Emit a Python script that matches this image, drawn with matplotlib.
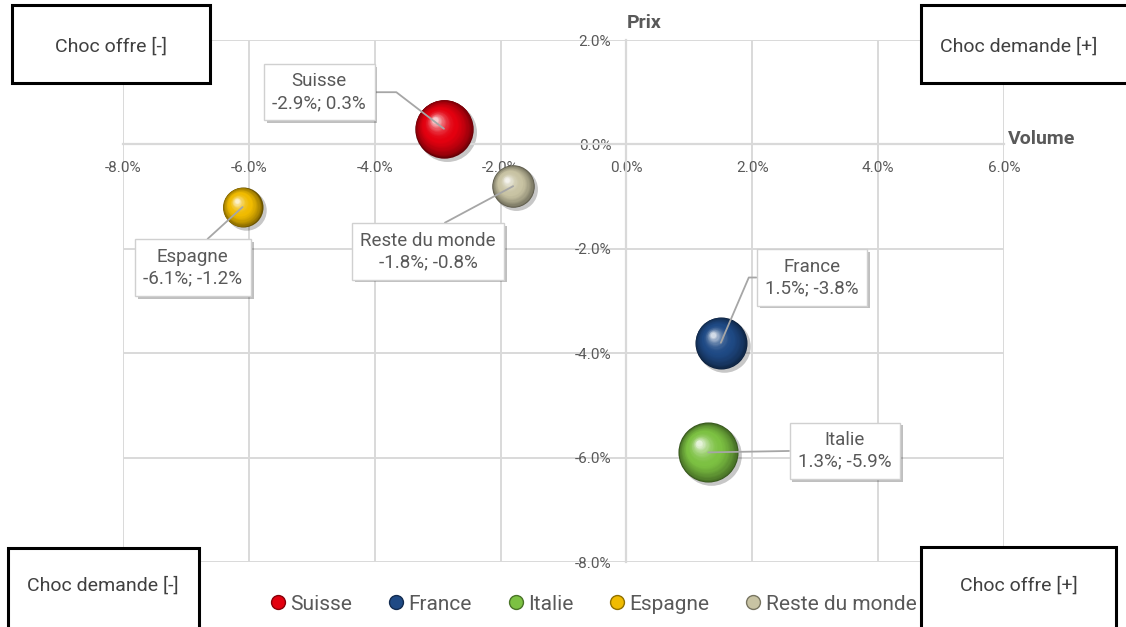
import numpy as np
import matplotlib
matplotlib.use('Agg')
import matplotlib.pyplot as plt
import matplotlib.colors as mcolors
import matplotlib.patheffects as pe
from matplotlib.transforms import offset_copy
from matplotlib.patches import Rectangle
from matplotlib.lines import Line2D

# ---------------- data ----------------
pays = ['Suisse', 'France', 'Italie', 'Espagne', 'Reste du monde']
volume = [-2.9, 1.5, 1.3, -6.1, -1.8]      # x, %
prix = [0.3, -3.8, -5.9, -1.2, -0.8]        # y, %
poids = [3.4, 2.7, 3.6, 1.6, 1.8]           # bubble size (relative area)
couleurs = ['#e3000f', '#1f4a85', '#7cc142', '#f0bb00', '#c8c3a3']
x_ticks = [-8, -6, -4, -2, 0, 2, 4, 6]
y_ticks = [-8, -6, -4, -2, 0, 2]
quadrants = ['Choc offre [-]', 'Choc demande [+]', 'Choc demande [-]', 'Choc offre [+]']

plt.rcParams['font.family'] = ['Roboto', 'DejaVu Sans']
plt.rcParams['axes.unicode_minus'] = False
TXT = '#595959'
GRID = '#d9d9d9'
W, H = 1126, 627

fig = plt.figure(figsize=(W / 100, H / 100), dpi=100)
ax = fig.add_axes([123 / W, 1 - 562 / H, 881 / W, 522 / H])
ax.set_xlim(x_ticks[0], x_ticks[-1])
ax.set_ylim(y_ticks[0], y_ticks[-1])
ax.set_xticks(x_ticks)
ax.set_yticks(y_ticks)
ax.set_xticklabels([f'{v:.1f}%' for v in x_ticks])
ax.set_yticklabels([f'{v:.1f}%' for v in y_ticks])
ax.grid(True, color=GRID, lw=1.4, zorder=0)
ax.set_axisbelow(True)
for s in ['top', 'right']:
    ax.spines[s].set_visible(False)
ax.spines['left'].set_position(('data', 0))
ax.spines['bottom'].set_position(('data', 0))
for s in ['left', 'bottom']:
    ax.spines[s].set_color(GRID)
    ax.spines[s].set_linewidth(1.6)
ax.tick_params(axis='x', length=0, labelsize=11, labelcolor=TXT, pad=12)
ax.tick_params(axis='y', length=0, labelsize=11, labelcolor=TXT, pad=11)
ax.set_facecolor('none')

ax.annotate('Prix', xy=(0, y_ticks[-1]), xytext=(0, 6), textcoords='offset points',
            ha='left', va='bottom', fontsize=14, fontweight='bold', color=TXT)
ax.annotate('Volume', xy=(x_ticks[-1], 0), xytext=(3, 4), textcoords='offset points',
            ha='left', va='center', fontsize=14, fontweight='bold', color=TXT)

SCALE = 520.0  # pt^2 per size unit


def sphere(x, y, s, base, z):
    R = np.sqrt(s) / 2.0
    ax.scatter([x], [y], s=s * 1.02, color='k', alpha=0.22, lw=0, zorder=z - 0.5,
               transform=offset_copy(ax.transData, fig=fig, x=2.2, y=-2.2, units='points'))
    b = np.array(mcolors.to_rgb(base))
    dark = b * 0.45
    light = b + (1 - b) * 0.8
    n = 34
    for i, t in enumerate(np.linspace(0, 1, n)):
        r = R * (1 - 0.9 * t)
        if t < 0.45:
            c = dark + (b - dark) * (t / 0.45) ** 0.6
        else:
            c = b + (light - b) * ((t - 0.45) / 0.55) ** 2.2
        off = 0.3 * R * t
        ax.scatter([x], [y], s=(2 * r) ** 2, color=np.clip(c, 0, 1), lw=0, zorder=z + 0.01 * i,
                   transform=offset_copy(ax.transData, fig=fig, x=-off, y=off, units='points'))


for k in range(len(pays)):
    sphere(volume[k], prix[k], poids[k] * SCALE, couleurs[k], 3 + k)

# labels: (box centre in data coords, relpos, connectionstyle)
layout = {
    'Suisse': ((-4.88, 1.0), (1, 0.5), 'angle,angleA=0,angleB=-37.5,rad=0'),
    'France': ((2.95, -2.55), (0, 0.5), 'angle,angleA=0,angleB=66.8,rad=0'),
    'Italie': ((3.47, -5.87), (0, 0.5), 'arc3,rad=0'),
    'Espagne': ((-6.89, -2.36), (0.55, 1), 'arc3,rad=0'),
    'Reste du monde': ((-3.15, -2.05), (0.5, 1), 'arc3,rad=0'),
}
for k, name in enumerate(pays):
    pos, rel, cs = layout[name]
    txt = f'{name}\n{volume[k]:.1f}%; {prix[k]:.1f}%'
    a = ax.annotate(txt, xy=(volume[k], prix[k]), xytext=pos, textcoords='data',
                    ha='center', va='center', multialignment='center', fontsize=13.5,
                    color=TXT, linespacing=1.25, zorder=20,
                    bbox=dict(boxstyle='square,pad=0.45', fc='white', ec='#d0d0d0', lw=1),
                    arrowprops=dict(arrowstyle='-', color='#a6a6a6', lw=1.3, relpos=rel,
                                    connectionstyle=cs, shrinkA=0, shrinkB=0))
    a.get_bbox_patch().set_path_effects([pe.SimplePatchShadow(offset=(2, -2), shadow_rgbFace='#000000', alpha=0.25),
                                         pe.Normal()])

# legend
handles = [Line2D([], [], ls='', marker='o', markersize=10, markerfacecolor=c,
                  markeredgecolor=np.array(mcolors.to_rgb(c)) * 0.6, markeredgewidth=1)
           for c in couleurs]
leg = fig.legend(handles, pays, loc='center', bbox_to_anchor=(592 / W, 1 - 604 / H), ncol=5,
                 frameon=False, fontsize=15, handletextpad=0.1, columnspacing=1.6,
                 handlelength=1.0)
for t in leg.get_texts():
    t.set_color(TXT)

# quadrant boxes (pixel rectangles from top-left)
boxes = [(12, 5, 210, 83), (921, 5, 1140, 83), (8, 548, 199, 640), (921, 547, 1116, 640)]
centers = [(111, 47), (1019, 47), (103, 586), (1019, 586)]
for (x0, y0, x1, y1), (cx, cy), lab in zip(boxes, centers, quadrants):
    fig.add_artist(Rectangle((x0 / W, 1 - y1 / H), (x1 - x0) / W, (y1 - y0) / H,
                             transform=fig.transFigure, fc='white', ec='black', lw=2.2,
                             zorder=30, clip_on=False))
    fig.text(cx / W, 1 - cy / H, lab, ha='center', va='center', fontsize=14,
             color='#404040', zorder=31)

fig.savefig('out.png', dpi=100)
